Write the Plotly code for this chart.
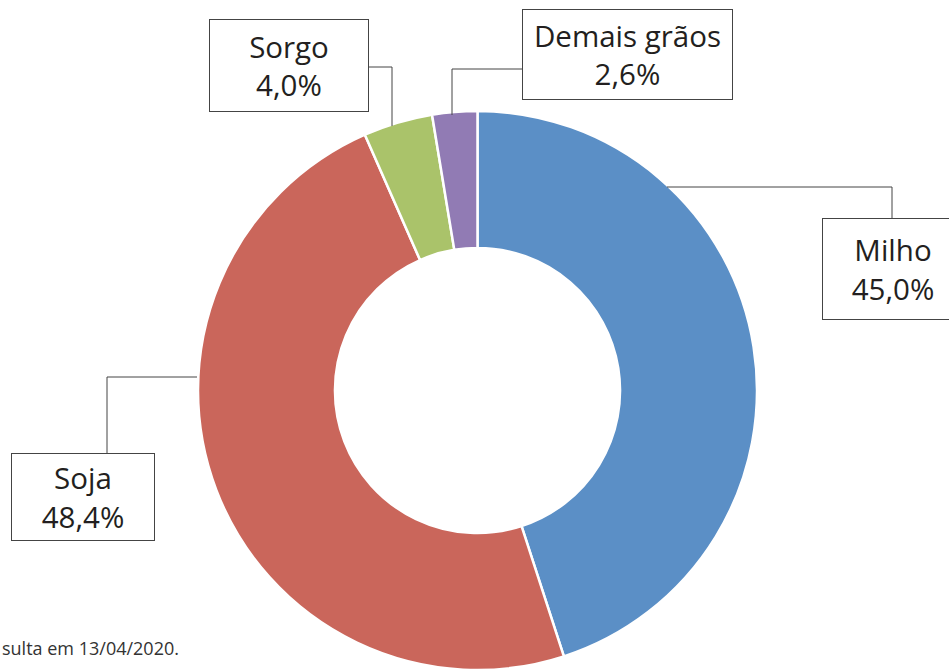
import plotly.graph_objects as go

W, H = 949, 670

categories = ["Milho", "Soja", "Sorgo", "Demais grãos"]
values = [45.0, 48.4, 4.0, 2.6]
value_labels = ["45,0%", "48,4%", "4,0%", "2,6%"]
colors = ["#5B8FC6", "#CA665B", "#AAC36A", "#917BB4"]
footer = "sulta em 13/04/2020."

def px(x):
    return x / W

def py(y):
    return 1 - y / H

fig = go.Figure()
fig.add_trace(go.Pie(
    labels=categories,
    values=values,
    hole=0.51,
    sort=False,
    direction="clockwise",
    rotation=0,
    marker=dict(colors=colors, line=dict(color="white", width=2.5)),
    textinfo="none",
    hoverinfo="label+percent",
    domain=dict(x=[px(194.5), px(760.5)], y=[0, py(111)]),
    showlegend=False,
))

# label boxes: (center x, center y, width, height) in px
boxes = {
    "Milho": (893, 269, 140, 100),
    "Soja": (83, 497, 142, 86),
    "Sorgo": (289, 65.5, 158, 91),
    "Demais grãos": (627.5, 54.5, 209, 89),
}
# leader lines as polylines in px
leaders = {
    "Milho": [(667, 187), (892, 187), (892, 219)],
    "Soja": [(107, 454), (107, 377), (197, 377)],
    "Sorgo": [(368, 67), (392, 67), (392, 126)],
    "Demais grãos": [(523, 69), (452, 69), (452, 115)],
}

for cat, lab in zip(categories, value_labels):
    cx, cy, bw, bh = boxes[cat]
    fig.add_annotation(
        x=px(cx), y=py(cy), xref="paper", yref="paper",
        xanchor="center", yanchor="middle",
        text=f"{cat}<br>{lab}", showarrow=False,
        font=dict(family="Open Sans", size=29.5, color="#231F20"),
        bgcolor="white", bordercolor="#444444", borderwidth=1, borderpad=0,
        width=bw, height=bh, align="center",
    )
    pts = leaders[cat]
    path = "M " + " L ".join(f"{px(x)} {py(y)}" for x, y in pts)
    fig.add_shape(type="path", path=path, xref="paper", yref="paper",
                  line=dict(color="#444444", width=1))

fig.add_annotation(
    x=px(0), y=py(648), xref="paper", yref="paper",
    xanchor="left", yanchor="middle", text=footer, showarrow=False,
    font=dict(family="Open Sans", size=18, color="#333333"),
)

fig.update_layout(
    width=W, height=H,
    margin=dict(l=0, r=0, t=0, b=0),
    paper_bgcolor="white", plot_bgcolor="white",
)

fig.write_html("out.html", config={"displayModeBar": False},
               post_script="document.body.style.margin='0';")
